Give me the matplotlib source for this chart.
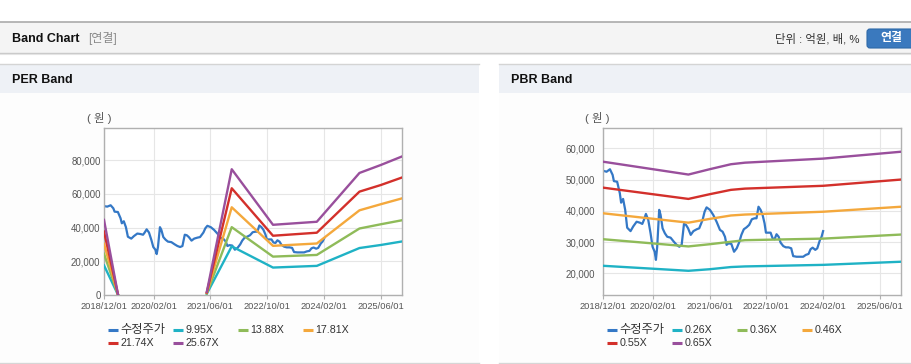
import matplotlib
matplotlib.use('Agg')
import matplotlib.pyplot as plt
import matplotlib.dates as mdates
from matplotlib.patches import Rectangle, FancyBboxPatch
import numpy as np
import pandas as pd

plt.rcParams['font.family'] = ['Liberation Sans', 'Noto Sans CJK KR', 'DejaVu Sans']

# ---------------- data ----------------
price_dates = ['2018-12-01', '2018-12-29', '2019-01-27', '2019-02-19', '2019-03-02', '2019-03-30',
               '2019-04-22', '2019-05-03', '2019-05-20', '2019-06-07', '2019-06-24', '2019-07-23',
               '2019-08-15', '2019-09-13', '2019-10-11', '2019-11-01', '2019-11-15', '2019-12-02',
               '2019-12-22', '2020-01-11', '2020-01-28', '2020-02-15', '2020-02-26', '2020-03-08',
               '2020-03-25', '2020-04-06', '2020-04-23', '2020-05-13', '2020-06-02', '2020-07-01',
               '2020-07-29', '2020-08-22', '2020-09-14', '2020-10-04', '2020-10-24', '2020-11-10',
               '2020-11-28', '2020-12-21', '2021-01-13', '2021-02-11', '2021-03-04', '2021-04-02',
               '2021-04-19', '2021-05-06', '2021-06-04', '2021-07-02', '2021-07-31', '2021-08-29',
               '2021-09-21', '2021-10-11', '2021-10-25', '2021-11-11', '2021-12-05', '2021-12-28',
               '2022-01-20', '2022-02-12', '2022-03-01', '2022-03-22', '2022-04-14', '2022-05-07',
               '2022-05-30', '2022-06-22', '2022-07-09', '2022-07-26', '2022-08-13', '2022-08-30',
               '2022-09-16', '2022-09-28', '2022-10-21', '2022-11-07', '2022-11-24', '2022-12-11',
               '2022-12-28', '2023-01-15', '2023-02-01', '2023-02-24', '2023-03-18', '2023-04-10',
               '2023-05-03', '2023-05-20', '2023-06-18', '2023-07-16', '2023-08-14', '2023-09-06',
               '2023-09-29', '2023-10-16', '2023-11-03', '2023-11-26', '2023-12-13', '2024-01-05',
               '2024-01-19', '2024-02-01']
price_values = [52800, 52500, 53300, 51500, 49500, 49300,
                45600, 42600, 43800, 40300, 34600, 33500,
                35000, 36500, 36200, 35800, 37100, 39000,
                37100, 32800, 28500, 26900, 24300, 28500,
                40300, 38700, 34400, 32800, 31700, 31400,
                30100, 29100, 28500, 29100, 35800, 35500,
                34400, 32300, 33500, 34100, 34400, 37100,
                39700, 41100, 40300, 38700, 36500, 33900,
                33300, 31700, 29100, 29600, 29400, 26900,
                28000, 30100, 32300, 34100, 34700, 35500,
                37300, 37600, 37600, 41300, 40300, 38700,
                36000, 33000, 33000, 33000, 31200, 30900,
                32500, 31700, 29800, 28700, 28300, 28300,
                28000, 25500, 25300, 25300, 25300, 25900,
                26200, 27700, 28200, 27500, 28000, 30700,
                31700, 33500]

per_dates = ['2018-12-01', '2019-04-01', '2020-06-01', '2021-05-01', '2021-12-01',
             '2022-11-20', '2023-12-01', '2024-12-01', '2025-06-01', '2025-12-01']
per_labels = ['9.95X', '13.88X', '17.81X', '21.74X', '25.67X']
per_995 = [17600, 0, np.nan, 700, 28900, 16300, 17300, 27900, 29700, 31800]
per_1388 = [24500, 0, np.nan, 950, 40300, 22800, 23800, 39500, 42000, 44400]
per_1781 = [30400, 0, np.nan, 1250, 52100, 29200, 30600, 50300, 53900, 57400]
per_2174 = [37700, 0, np.nan, 1500, 63400, 35200, 37000, 61400, 65300, 69800]
per_2567 = [44600, 0, np.nan, 1800, 74700, 41700, 43500, 72500, 77200, 82300]

pbr_dates = ['2018-12-01', '2020-12-01', '2021-06-01', '2021-12-01', '2022-04-01',
             '2024-02-01', '2025-12-01']
pbr_labels = ['0.26X', '0.36X', '0.46X', '0.55X', '0.65X']
pbr_026 = [22400, 20800, 21300, 22000, 22200, 22700, 23700]
pbr_036 = [30900, 28600, 29300, 30100, 30600, 31100, 32400]
pbr_046 = [39200, 36200, 37400, 38500, 38800, 39700, 41300]
pbr_055 = [47400, 43800, 45300, 46700, 47100, 48000, 50000]
pbr_065 = [55700, 51600, 53300, 54900, 55400, 56700, 58900]

price_label = '수정주가'
x_tick_dates = ['2018-12-01', '2020-02-01', '2021-06-01', '2022-10-01', '2024-02-01', '2025-06-01']
x_tick_labels = ['2018/12/01', '2020/02/01', '2021/06/01', '2022/10/01', '2024/02/01', '2025/06/01']
per_yticks = [0, 20000, 40000, 60000, 80000]
pbr_yticks = [20000, 30000, 40000, 50000, 60000]

series_colors = ['#3478c6', '#1fb2c5', '#8fbb59', '#f4a83c', '#d3302b', '#994f9c']

# ---------------- layout ----------------
W, H = 912, 364
fig = plt.figure(figsize=(W / 100, H / 100), dpi=100)
fig.patch.set_facecolor('white')


def rect(l, t, r, b):
    return [l / W, 1 - b / H, (r - l) / W, (b - t) / H]


bg = fig.add_axes([0, 0, 1, 1], zorder=0)
bg.set_xlim(0, W)
bg.set_ylim(H, 0)
bg.axis('off')

# header bar
bg.add_patch(Rectangle((0, 22), W, 31, fc='#f4f4f4', ec='none'))
bg.plot([0, W], [22.3, 22.3], color='#aaaaaa', lw=1.2)
bg.plot([0, W], [53.3, 53.3], color='#c9c9c9', lw=1.0)
bg.plot([0, W], [54.3, 54.3], color='#e4e4e4', lw=0.8)
bg.text(12, 38.5, 'Band Chart', fontsize=9, fontweight='bold', color='#111111', va='center', ha='left')
bg.text(88, 38.5, '[연결]', fontsize=8.6, color='#8a8a8a', va='center', ha='left')
bg.text(860, 38.5, '단위 : 억원, 배, %', fontsize=8.2, color='#333333', va='center', ha='right')
bg.add_patch(FancyBboxPatch((867, 29), 60, 19, boxstyle='round,pad=0,rounding_size=3',
                            fc='#3a79be', ec='#2e69a8', lw=0.8))
bg.text(891.5, 38.5, '연결', fontsize=8.6, fontweight='bold', color='white', va='center', ha='center')

# panels
for (pl, pr, title) in [(0, 479, 'PER Band'), (499, W, 'PBR Band')]:
    bg.add_patch(Rectangle((pl, 93), pr - pl, 269, fc='#fdfdfd', ec='none'))
    bg.add_patch(Rectangle((pl, 64), pr - pl, 29, fc='#eef1f6', ec='none'))
    bg.plot([pl, pr], [64.3, 64.3], color='#d4d4d4', lw=1.0)
    bg.plot([pl, pr], [362.5, 362.5], color='#d6d6d6', lw=1.0)
    bg.text(pl + 12, 80, title, fontsize=9, fontweight='bold', color='#111111', va='center', ha='left')

bg.text(99, 118, '( 원 )', fontsize=8.2, color='#555555', va='center', ha='center')
bg.text(597.5, 118, '( 원 )', fontsize=8.2, color='#555555', va='center', ha='center')

tick_dt = pd.to_datetime(x_tick_dates)
xmin, xmax = pd.Timestamp('2018-12-01'), pd.Timestamp('2025-12-01')


def style_axes(ax, yticks, ylim, ypad):
    ax.set_xlim(xmin, xmax)
    ax.set_ylim(*ylim)
    ax.set_xticks(tick_dt)
    ax.set_xticklabels(x_tick_labels)
    ax.set_yticks(yticks)
    ax.set_yticklabels([f'{v:,}' for v in yticks])
    ax.grid(True, color='#e6e6e6', lw=0.8)
    ax.set_axisbelow(True)
    for s in ax.spines.values():
        s.set_color('#b0b0b0')
        s.set_linewidth(1.0)
    ax.tick_params(axis='x', length=3, color='#b0b0b0', labelsize=6.7, labelcolor='#555555', pad=2)
    ax.tick_params(axis='y', length=0, labelsize=6.9, labelcolor='#555555', pad=ypad)
    ax.set_facecolor('white')


# PER chart
ax1 = fig.add_axes(rect(104, 128, 402, 295), zorder=1)
ax1.plot(pd.to_datetime(price_dates), price_values, color=series_colors[0], lw=1.6, zorder=2)
per_series = [per_995, per_1388, per_1781, per_2174, per_2567]
for vals, c in zip(per_series, series_colors[1:]):
    ax1.plot(pd.to_datetime(per_dates), vals, color=c, lw=1.7, zorder=3)
style_axes(ax1, per_yticks, (0, 99200), 2.5)

# PBR chart
ax2 = fig.add_axes(rect(603.3, 128.3, 901, 295.3), zorder=1)
ax2.plot(pd.to_datetime(price_dates), price_values, color=series_colors[0], lw=1.6, zorder=2)
pbr_series = [pbr_026, pbr_036, pbr_046, pbr_055, pbr_065]
for vals, c in zip(pbr_series, series_colors[1:]):
    ax2.plot(pd.to_datetime(pbr_dates), vals, color=c, lw=1.7, zorder=3)
style_axes(ax2, pbr_yticks, (12960, 66400), 6)

# legends (manual, grid of 4 columns)
for base, labels in [(107.7, [price_label] + per_labels), (606.7, [price_label] + pbr_labels)]:
    for i, (lab, c) in enumerate(zip(labels, series_colors)):
        row, col = divmod(i, 4)
        x0 = base + col * 65
        y = 330 + row * 13
        bg.plot([x0, x0 + 10.5], [y, y], color=c, lw=2.2, solid_capstyle='butt')
        fs = 8.8 if lab == price_label else 7.7
        bg.text(x0 + 13, y + 0.3, lab, fontsize=fs, color='#333333', va='center', ha='left')

fig.savefig('out.png', dpi=100)
